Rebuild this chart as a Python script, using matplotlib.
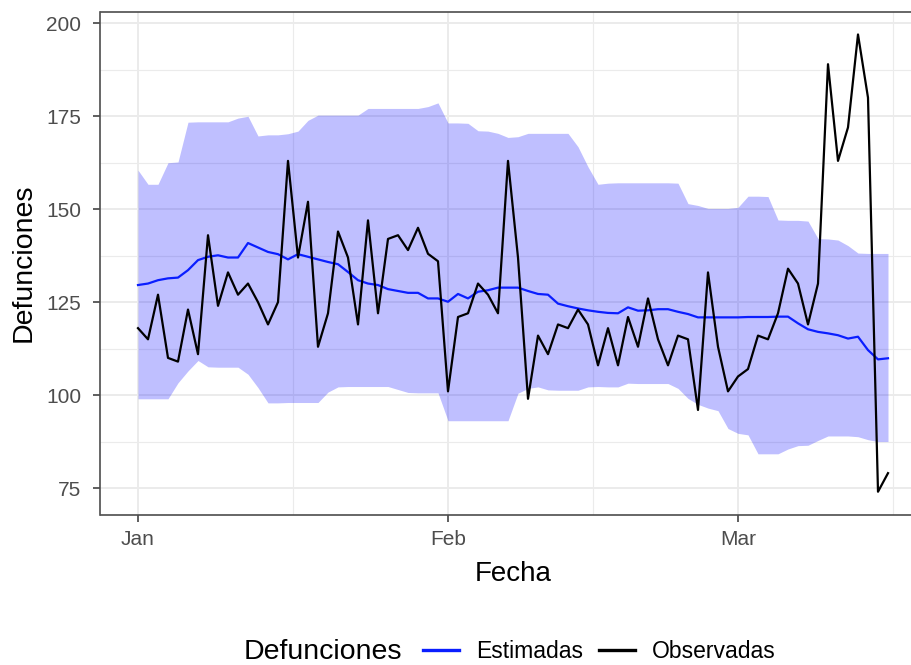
import matplotlib
matplotlib.use("Agg")
import matplotlib.pyplot as plt
import matplotlib.dates as mdates
from matplotlib.lines import Line2D
from matplotlib.ticker import MultipleLocator, FixedLocator
import numpy as np
import pandas as pd

plt.rcParams["font.family"] = ["Liberation Sans", "DejaVu Sans"]

# daily deaths, 1 Jan - 16 Mar 2020
dates = pd.date_range("2020-01-01", "2020-03-16", freq="D")

observadas = [
    118, 115, 127, 110, 109, 123, 111, 143, 124, 133, 127, 130, 125, 119, 125, 163,
    137, 152, 113, 122, 144, 137, 119, 147, 122, 142, 143, 139, 145, 138, 136,
    101, 121, 122, 130, 127, 122, 163, 137, 99, 116, 111, 119, 118, 123, 119,
    108, 118, 108, 121, 113, 126, 115, 108, 116, 115, 96, 133, 113, 101,
    105, 107, 116, 115, 122, 134, 130, 119, 130, 189, 163, 172, 197, 180, 74, 79,
]

estimadas = [
    129.6, 130.0, 130.9, 131.4, 131.6, 133.6, 136.3, 137.2, 137.6, 137.0, 137.0, 140.9,
    139.7, 138.5, 137.9, 136.5, 137.9, 137.2, 136.5, 135.8, 135.2, 133.1, 130.9, 130.0,
    129.6, 128.5, 128.0, 127.5, 127.5, 126.0, 126.0,
    125.1, 127.2, 126.0, 127.8, 128.2, 128.9, 128.9, 128.9, 128.0, 127.2, 127.0, 124.6,
    123.9, 123.3, 122.8, 122.4, 122.1, 122.0, 123.6, 122.7, 122.8, 123.1, 123.1, 122.4,
    121.8, 120.9, 120.9, 120.9, 120.9,
    120.9, 121.0, 121.0, 121.0, 121.1, 121.1, 119.3, 117.7, 117.0, 116.6, 116.1, 115.2,
    115.7, 112.1, 109.6, 109.9,
]

superior = [
    160.5, 156.7, 156.7, 162.5, 162.7, 173.4, 173.5, 173.5, 173.5, 173.5, 174.5, 175.0,
    169.7, 170.0, 170.0, 170.3, 171.0, 173.9, 175.3, 175.3, 175.3, 175.3, 175.3, 177.1,
    177.1, 177.1, 177.1, 177.1, 177.1, 177.6, 178.6,
    173.2, 173.2, 173.1, 171.1, 171.0, 170.4, 169.3, 169.5, 170.4, 170.4, 170.4, 170.4,
    170.4, 166.8, 161.4, 156.7, 157.0, 157.1, 157.1, 157.1, 157.1, 157.1, 157.1, 157.0,
    151.5, 151.0, 150.2, 150.2, 150.2,
    150.5, 153.5, 153.5, 153.4, 147.1, 147.0, 147.0, 146.8, 142.1, 142.0, 141.7, 140.2,
    138.2, 138.1, 138.1, 138.1,
]

inferior = [
    99.0, 99.0, 99.0, 99.0, 103.3, 106.5, 109.3, 107.6, 107.5, 107.5, 107.5, 105.6,
    102.0, 97.9, 97.9, 98.0, 98.0, 98.0, 98.0, 100.8, 102.2, 102.3, 102.3, 102.3,
    102.3, 102.3, 101.5, 100.7, 100.6, 100.6, 100.6,
    93.1, 93.1, 93.1, 93.1, 93.1, 93.1, 93.1, 100.5, 101.8, 102.2, 101.4, 101.3,
    101.3, 101.3, 102.2, 102.3, 102.2, 102.2, 103.2, 103.1, 103.1, 103.1, 103.1, 101.8,
    99.1, 97.5, 96.5, 95.8, 91.0,
    89.7, 89.3, 84.2, 84.2, 84.2, 85.5, 86.4, 86.5, 87.8, 89.0, 89.0, 89.0,
    88.8, 88.0, 87.5, 87.5,
]

GRID = "#ebebeb"
TICK_TEXT = "#4d4d4d"

fig = plt.figure(figsize=(9.12, 6.65), dpi=100)
# panel runs past the right edge of the picture (cropped like the original)
left, right, top, bottom = 100.5, 925.5, 11.6, 514.6
ax = fig.add_axes([left / 912, 1 - bottom / 665, (right - left) / 912, (bottom - top) / 665])

ax.fill_between(dates, inferior, superior, color="blue", alpha=0.25, lw=0, zorder=2)
ax.plot(dates, estimadas, color="#0a1eff", lw=1.6, zorder=3)
ax.plot(dates, observadas, color="black", lw=1.6, zorder=4)

# ggplot-like 5% expansion
x0, x1 = mdates.date2num(dates[0]), mdates.date2num(dates[-1])
dx = 0.05 * (x1 - x0)
ax.set_xlim(x0 - dx, x1 + dx)
lo = min(min(inferior), min(observadas))
hi = max(max(superior), max(observadas))
dy = 0.05 * (hi - lo)
ax.set_ylim(lo - dy, hi + dy)

month_starts = mdates.date2num(pd.date_range("2020-01-01", "2020-04-01", freq="MS"))
ax.xaxis.set_major_locator(FixedLocator(month_starts[:3]))
ax.xaxis.set_major_formatter(mdates.DateFormatter("%b"))
ax.xaxis.set_minor_locator(FixedLocator((month_starts[:-1] + month_starts[1:]) / 2))
ax.yaxis.set_major_locator(MultipleLocator(25))
ax.yaxis.set_minor_locator(MultipleLocator(12.5))

ax.grid(which="major", color=GRID, lw=1.4, zorder=0)
ax.grid(which="minor", color=GRID, lw=0.8, zorder=0)
ax.set_axisbelow(True)

ax.tick_params(which="major", length=5, width=1.1, color="#333333",
               labelsize=15, labelcolor=TICK_TEXT)
ax.tick_params(axis="x", which="major", pad=6)
ax.tick_params(axis="y", which="major", pad=9)
ax.tick_params(which="minor", length=0)
for s in ax.spines.values():
    s.set_color("#4d4d4d")
    s.set_linewidth(1.2)

ax.set_xlabel("Fecha", fontsize=20, labelpad=9)
ax.set_ylabel("Defunciones", fontsize=20.5, labelpad=7)

# legend at the bottom, title to the left of the keys
ly = 1 - 652 / 665
fig.text(244 / 912, ly, "Defunciones", fontsize=20.5, va="center", ha="left")
handles = [Line2D([], [], color="#0a1eff", lw=2.4), Line2D([], [], color="black", lw=2.4)]
fig.legend(handles, ["Estimadas", "Observadas"], loc="center left",
           bbox_to_anchor=(423 / 912, ly), ncol=2, frameon=False, fontsize=16.5,
           borderpad=0, borderaxespad=0, handlelength=1.55, handletextpad=0.75,
           columnspacing=0.72)

fig.savefig("out.png", dpi=100)
